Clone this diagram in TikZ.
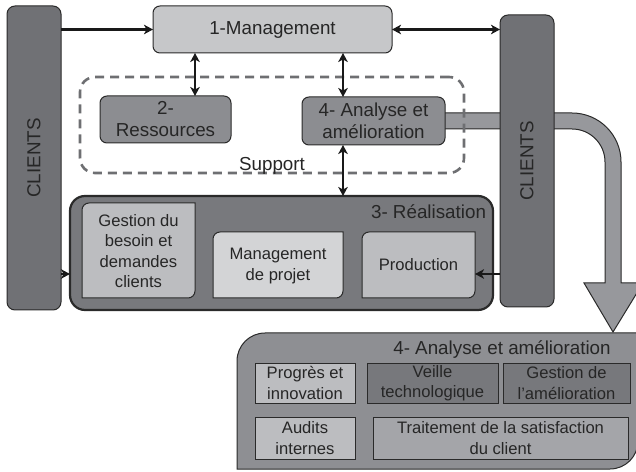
\documentclass[tikz,border=0pt]{standalone}
\usepackage{fontspec}
\setmainfont{Liberation Sans}
\usetikzlibrary{arrows.meta}
\definecolor{linec}{HTML}{2A2A2A}
\definecolor{textc}{HTML}{262626}
\definecolor{cbar}{HTML}{707175}
\definecolor{cmgmt}{HTML}{C6C7C9}
\definecolor{cmid}{HTML}{8C8D91}
\definecolor{creal}{HTML}{78797D}
\definecolor{clight}{HTML}{BCBDC0}
\definecolor{clighter}{HTML}{D3D4D6}
\definecolor{cband}{HTML}{97989C}
\definecolor{cbot}{HTML}{8E8F93}
\definecolor{cdark}{HTML}{77787C}
\definecolor{ctrait}{HTML}{A4A5A9}
\definecolor{cdash}{HTML}{6E6F72}
\newcommand\tlbrbox[5]{\draw[draw=linec,line width=1pt,fill=#5] (#1,#2) -- (#1,#4-7) arc(180:90:7pt) -- (#3,#4) -- (#3,#2+7) arc(0:-90:7pt) -- cycle;}
\begin{document}
\begin{tikzpicture}[x=1pt,y=1pt,
  big/.style={font=\fontsize{18.8}{22}\selectfont, text=textc},
  small/.style={font=\fontsize{16.6}{20.5}\selectfont, text=textc},
  box/.style={draw=linec, line width=1pt, rounded corners=7pt, inner sep=0pt, outer sep=0pt, align=center},
  sbox/.style={draw=linec, line width=1pt, inner sep=0pt, outer sep=0pt, align=center, small},
  lbl/.style={inner sep=0pt, outer sep=0pt, align=center},
  arr/.style={line width=2.5pt, draw=black!90, -{Stealth[length=9pt,width=9.5pt,inset=2.5pt]}},
  darr/.style={line width=2.5pt, draw=black!90, {Stealth[length=9pt,width=9.5pt,inset=2.5pt]}-{Stealth[length=9pt,width=9.5pt,inset=2.5pt]}}
]
\useasboundingbox (0,0) rectangle (636,471);

% big improvement arrow (band)
\draw[draw=linec, line width=1pt, fill=cband] (440,358) -- (572,358) arc(90:0:49pt) -- (621,188) -- (643,188) -- (613,139) -- (584,188) -- (605,188) -- (605,309) arc(0:90:33pt) -- (440,342) -- cycle;

% support dashed area
\node[draw=cdash, line width=2.6pt, dash pattern=on 9pt off 6pt, rounded corners=15pt, minimum width=384, minimum height=96, inner sep=0pt] (sp) at (272,346) {};
\node[lbl, big] (spl) at (272,305) {Support};

% clients bars
\node[box, fill=cbar, rounded corners=8pt, minimum width=54, minimum height=304, big, text=black!85] (lc) at (34,313) {\rotatebox{90}{CLIENTS}};
\node[box, fill=cbar, rounded corners=8pt, minimum width=54, minimum height=292, big, text=black!85] (rc) at (527,310) {\rotatebox{90}{CLIENTS}};

% management, resources, analysis
\node[box, fill=cmgmt, minimum width=239, minimum height=47, big] (mg) at (272.5,441.5) {1-Management};
\node[box, fill=cmid, minimum width=131, minimum height=47, big] (res) at (165.5,351.5) {2-\\Ressources};
\node[box, fill=cmid, minimum width=143, minimum height=48, big] (an) at (373.5,350) {4- Analyse et\\amélioration};

% realisation
\node[box, fill=creal, line width=2.2pt, rounded corners=15pt, minimum width=423, minimum height=114] (re) at (281.5,218) {};
\node[lbl, big, anchor=east] (rel) at (486,259) {3- Réalisation};
\tlbrbox{82}{173}{195}{268}{clight}
\node[lbl, small] (gb) at (138.5,220) {Gestion du\\besoin et\\demandes\\clients};
\tlbrbox{213}{173}{343}{239}{clighter}
\node[lbl, small] (mp) at (278,205) {Management\\de projet};
\tlbrbox{362}{173}{475}{239}{clight}
\node[lbl, small, minimum width=113, minimum height=66] (pr) at (418.5,206) {Production};

% connectors
\coordinate (xa) at (195,0);
\coordinate (xb) at (343,0);
\coordinate (ya) at (0,197);
\draw[arr] (lc.east |- mg.west) -- (mg.west);
\draw[darr] (mg.east) -- (mg.east -| rc.west);
\draw[darr] (mg.south -| xa) -- (res.north -| xa);
\draw[darr] (mg.south -| xb) -- (an.north -| xb);
\draw[darr] (an.south -| xb) -- (re.north -| xb);
\draw[arr] (lc.east |- ya) -- (re.west |- ya);
\draw[arr] (rc.west |- ya) -- (pr.east |- ya);

% bottom analysis block
\draw[draw=linec, line width=1pt, fill=cbot] (237,2) -- (237,110) arc(180:90:28pt) -- (638,138) -- (638,30) arc(0:-90:28pt) -- cycle;
\node[lbl, big] (bt) at (502,121) {4- Analyse et amélioration};
\node[sbox, fill=clight, minimum width=100, minimum height=40] (pi) at (305,88) {Progrès et\\innovation};
\node[sbox, fill=cdark, minimum width=131, minimum height=40] (vt) at (432.5,88) {Veille\\technologique};
\node[sbox, fill=cdark, minimum width=127, minimum height=40] (ga) at (566.5,88) {Gestion de\\l’amélioration};
\node[sbox, fill=clight, minimum width=100, minimum height=42] (ai) at (305,33) {Audits\\internes};
\node[sbox, fill=ctrait, minimum width=255, minimum height=42] (ts) at (500.5,33) {Traitement de la satisfaction\\du client};
\end{tikzpicture}
\end{document}
